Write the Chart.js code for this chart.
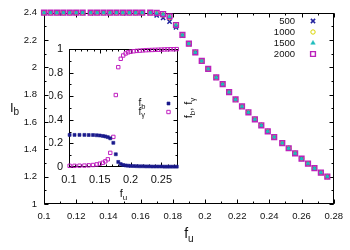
<!DOCTYPE html>
<html>
<head>
<meta charset="utf-8">
<script src="https://cdn.jsdelivr.net/npm/chart.js@4/dist/chart.umd.min.js"></script>
<style>
  html, body { margin: 0; padding: 0; background: #fff; }
  #wrap { position: relative; width: 350px; height: 250px; }
  #wrap canvas { position: absolute; left: 0; top: 0; }
</style>
</head>
<body>
<div id="wrap">
  <canvas id="main" width="350" height="250"></canvas>
  <canvas id="inset" width="350" height="250"></canvas>
</div>
<script>
// main panel: I_b against f_u for four system sizes
const fu = [0.100, 0.104, 0.108, 0.112, 0.116, 0.120, 0.124, 0.129, 0.133, 0.137, 0.141,
            0.145, 0.149, 0.153, 0.157, 0.161, 0.166, 0.170, 0.174, 0.178, 0.182, 0.186,
            0.190, 0.194, 0.198, 0.202, 0.207, 0.211, 0.215, 0.219, 0.223, 0.227, 0.231,
            0.235, 0.239, 0.243, 0.248, 0.252, 0.256, 0.260, 0.264, 0.268, 0.272, 0.276];
const ib500  = [2.4, 2.4, 2.4, 2.4, 2.4, 2.4, 2.4, 2.4, 2.4, 2.4, 2.4, 2.4, 2.4, 2.4, 2.4, 2.4,
                2.398, 2.38, 2.362, 2.335, 2.292, 2.232, 2.172, 2.108, 2.046, 1.988, 1.925, 1.876,
                1.818, 1.764, 1.713, 1.670, 1.619, 1.575, 1.531, 1.489, 1.445, 1.407, 1.370, 1.331,
                1.295, 1.261, 1.229, 1.200];
const ib1000 = [2.4, 2.4, 2.4, 2.4, 2.4, 2.4, 2.4, 2.4, 2.4, 2.4, 2.4, 2.4, 2.4, 2.4, 2.4, 2.4,
                2.4, 2.394, 2.384, 2.364, 2.306, 2.236, 2.173, 2.110, 2.047, 1.989, 1.926, 1.877,
                1.819, 1.765, 1.714, 1.671, 1.620, 1.576, 1.532, 1.490, 1.446, 1.408, 1.371, 1.332,
                1.296, 1.262, 1.230, 1.201];
const ib1500 = [2.4, 2.4, 2.4, 2.4, 2.4, 2.4, 2.4, 2.4, 2.4, 2.4, 2.4, 2.4, 2.4, 2.4, 2.4, 2.4,
                2.4, 2.397, 2.388, 2.37, 2.309, 2.237, 2.174, 2.110, 2.047, 1.989, 1.926, 1.877,
                1.819, 1.765, 1.714, 1.671, 1.620, 1.576, 1.532, 1.490, 1.446, 1.408, 1.371, 1.332,
                1.296, 1.262, 1.230, 1.201];
const ib2000 = [2.4, 2.4, 2.4, 2.4, 2.4, 2.4, 2.4, 2.4, 2.4, 2.4, 2.4, 2.4, 2.4, 2.4, 2.4, 2.4,
                2.4, 2.398, 2.39, 2.373, 2.31, 2.237, 2.174, 2.110, 2.047, 1.989, 1.926, 1.877,
                1.819, 1.765, 1.714, 1.671, 1.620, 1.576, 1.532, 1.490, 1.446, 1.408, 1.371, 1.332,
                1.296, 1.262, 1.230, 1.201];
const sizeLabels = ['500', '1000', '1500', '2000'];
const xTicks = [0.1, 0.12, 0.14, 0.16, 0.18, 0.2, 0.22, 0.24, 0.26, 0.28];
const yTicks = [1, 1.2, 1.4, 1.6, 1.8, 2, 2.2, 2.4];

// inset: f_b and f_gamma against f_u
const fuIn = [0.101, 0.109, 0.117, 0.125, 0.132, 0.139, 0.145, 0.150, 0.155, 0.159, 0.163,
              0.167, 0.172, 0.176, 0.180, 0.184, 0.188, 0.192, 0.196, 0.200, 0.205, 0.210,
              0.215, 0.220, 0.225, 0.230, 0.235, 0.240, 0.245, 0.250, 0.255, 0.260, 0.265,
              0.270, 0.275];
const fb = [0.272, 0.272, 0.272, 0.272, 0.271, 0.271, 0.269, 0.267, 0.263, 0.259, 0.253,
            0.243, 0.205, 0.108, 0.043, 0.025, 0.017, 0.013, 0.011, 0.009, 0.008, 0.007,
            0.006, 0.006, 0.005, 0.005, 0.004, 0.004, 0.004, 0.004, 0.003, 0.003, 0.003,
            0.003, 0.003];
const fgamma = [0.010, 0.010, 0.011, 0.012, 0.014, 0.017, 0.022, 0.028, 0.036, 0.048, 0.065,
                0.120, 0.255, 0.610, 0.846, 0.917, 0.945, 0.962, 0.972, 0.977, 0.981, 0.984,
                0.986, 0.988, 0.990, 0.991, 0.992, 0.993, 0.994, 0.995, 0.996, 0.997, 0.998,
                0.998, 0.999];
const xTicksIn = [0.1, 0.15, 0.2, 0.25];
const yTicksIn = [0, 0.2, 0.4, 0.6, 0.8, 1];

const FONT = "'Liberation Sans', Arial, sans-serif";
const BLUE = '#22229e';
const YELLOW = '#d8d400';
const CYAN = '#1fbcbc';
const MAGENTA = '#bb22bb';

function pts(xs, ys) {
    return xs.map((x, i) => ({ x, y: ys[i] }));
}

// gnuplot-like box with inward major/minor ticks on all four sides
const framePlugin = {
    id: 'frame',
    beforeDatasetsDraw(chart, args, opts) {
        const { ctx, chartArea: a, scales: { x, y } } = chart;
        const L = Math.round(a.left) + 0.5, R = Math.round(a.right) - 0.5;
        const T = Math.round(a.top) + 0.5, B = Math.round(a.bottom) - 0.5;
        ctx.save();
        ctx.strokeStyle = '#000';
        ctx.lineWidth = 1;
        ctx.beginPath();
        const xm = [], ym = [];
        for (let v = x.min; v <= x.max + 1e-9; v += opts.xMinor) xm.push(v);
        for (let v = y.min; v <= y.max + 1e-9; v += opts.yMinor) ym.push(v);
        xm.forEach(v => {
            const p = Math.round(x.getPixelForValue(v)) + 0.5;
            ctx.moveTo(p, B); ctx.lineTo(p, B - opts.minor);
            ctx.moveTo(p, T); ctx.lineTo(p, T + opts.minor);
        });
        ym.forEach(v => {
            const p = Math.round(y.getPixelForValue(v)) + 0.5;
            ctx.moveTo(L, p); ctx.lineTo(L + opts.minor, p);
            ctx.moveTo(R, p); ctx.lineTo(R - opts.minor, p);
        });
        x.ticks.forEach(t => {
            const p = Math.round(x.getPixelForValue(t.value)) + 0.5;
            ctx.moveTo(p, B); ctx.lineTo(p, B - opts.major);
            ctx.moveTo(p, T); ctx.lineTo(p, T + opts.major);
        });
        y.ticks.forEach(t => {
            const p = Math.round(y.getPixelForValue(t.value)) + 0.5;
            ctx.moveTo(L, p); ctx.lineTo(L + opts.major, p);
            ctx.moveTo(R, p); ctx.lineTo(R - opts.major, p);
        });
        ctx.stroke();
        ctx.strokeRect(L, T, R - L, B - T);
        ctx.restore();
    }
};

// text with a subscript, e.g. f_u
function subText(ctx, parts, x, y, size, subSize) {
    let cx = x;
    parts.forEach(([txt, sub]) => {
        ctx.font = (sub ? subSize : size) + 'px ' + FONT;
        ctx.fillText(txt, cx, sub ? y + size * 0.25 : y);
        cx += ctx.measureText(txt).width;
    });
    return cx - x;
}
function measureSub(ctx, parts, size, subSize) {
    let w = 0;
    parts.forEach(([txt, sub]) => {
        ctx.font = (sub ? subSize : size) + 'px ' + FONT;
        w += ctx.measureText(txt).width;
    });
    return w;
}

const mainDecor = {
    id: 'mainDecor',
    afterDraw(chart) {
        const { ctx, chartArea: a } = chart;
        ctx.save();
        ctx.fillStyle = '#111';
        ctx.textBaseline = 'alphabetic';
        // axis titles
        const fuParts = [['f', false], ['u', true]];
        const w = measureSub(ctx, fuParts, 14, 10);
        subText(ctx, fuParts, (a.left + a.right) / 2 - w / 2, 238, 14, 10);
        subText(ctx, [['I', false], ['b', true]], 10, 112, 13, 10);
        // legend
        const styles = chart.data.datasets;
        const order = [3, 2, 1, 0];
        order.forEach((di, row) => {
            const ds = styles[di];
            const yy = 21 + row * 11;
            ctx.font = '9.5px ' + FONT;
            ctx.textAlign = 'right';
            ctx.textBaseline = 'middle';
            ctx.fillStyle = '#111';
            ctx.fillText(ds.label, 295, yy + 0.5);
            ctx.fillStyle = ds.backgroundColor;
            ctx.strokeStyle = ds.borderColor;
            ctx.lineWidth = ds.pointBorderWidth;
            Chart.helpers.drawPoint(ctx, {
                pointStyle: ds.pointStyle, radius: ds.pointRadius,
                rotation: 0, borderWidth: ds.pointBorderWidth
            }, 313, yy);
        });
        ctx.restore();
    }
};

const insetDecor = {
    id: 'insetDecor',
    afterDraw(chart) {
        const { ctx, chartArea: a } = chart;
        ctx.save();
        ctx.fillStyle = '#111';
        ctx.textBaseline = 'alphabetic';
        const fuParts = [['f', false], ['u', true]];
        const w = measureSub(ctx, fuParts, 11, 8);
        subText(ctx, fuParts, (a.left + a.right) / 2 - w / 2, 197, 11, 8);
        // rotated y title on the right of the inset
        const yParts = [['f', false], ['b', true], [', f', false], ['\u03b3', true]];
        const wy = measureSub(ctx, yParts, 11, 8);
        ctx.translate(192, (a.top + a.bottom) / 2);
        ctx.rotate(-Math.PI / 2);
        subText(ctx, yParts, -wy / 2, 0, 11, 8);
        ctx.setTransform(1, 0, 0, 1, 0, 0);
        // legend
        const rows = [[['f', false], ['b', true]], [['f', false], ['\u03b3', true]]];
        chart.data.datasets.forEach((ds, row) => {
            const yy = 103.5 + row * 8.5;
            ctx.fillStyle = '#111';
            subText(ctx, rows[row], 138.5, yy + 2.5, 10, 7.5);
            ctx.fillStyle = ds.backgroundColor;
            ctx.strokeStyle = ds.borderColor;
            ctx.lineWidth = ds.pointBorderWidth;
            Chart.helpers.drawPoint(ctx, {
                pointStyle: ds.pointStyle, radius: ds.pointRadius,
                rotation: 0, borderWidth: ds.pointBorderWidth
            }, 168.5, yy);
        });
        ctx.restore();
    }
};

function axis(min, max, ticks, fontSize, pad, fit) {
    return {
        type: 'linear', min, max,
        grid: { display: false, drawTicks: false },
        border: { display: false },
        afterBuildTicks: s => { s.ticks = ticks.map(v => ({ value: v })); },
        afterFit: fit,
        ticks: {
            font: { family: FONT, size: fontSize }, color: '#111',
            padding: pad, maxRotation: 0, autoSkip: false,
            callback: v => String(+v.toFixed(3))
        }
    };
}

// dataset 0 is drawn on top, so the largest size goes first
new Chart(document.getElementById('main'), {
    type: 'scatter',
    data: {
        datasets: [
            { label: sizeLabels[3], data: pts(fu, ib2000), pointStyle: 'rect', pointRadius: 3.4,
              pointBorderWidth: 1.4, borderColor: MAGENTA, backgroundColor: 'rgba(0,0,0,0)', clip: false },
            { label: sizeLabels[2], data: pts(fu, ib1500), pointStyle: 'triangle', pointRadius: 2.6,
              pointBorderWidth: 0.5, borderColor: CYAN, backgroundColor: CYAN, clip: false },
            { label: sizeLabels[1], data: pts(fu, ib1000), pointStyle: 'circle', pointRadius: 2.2,
              pointBorderWidth: 1, borderColor: YELLOW, backgroundColor: 'rgba(0,0,0,0)', clip: false },
            { label: sizeLabels[0], data: pts(fu, ib500), pointStyle: 'crossRot', pointRadius: 3,
              pointBorderWidth: 1.5, borderColor: BLUE, backgroundColor: BLUE, clip: false }
        ]
    },
    options: {
        responsive: false, animation: false, devicePixelRatio: 1,
        layout: { padding: { left: 0, right: 14, top: 11, bottom: 0 } },
        plugins: { legend: { display: false }, tooltip: { enabled: false }, frame: { xMinor: 0.01, yMinor: 0.1, major: 4, minor: 2 } },
        scales: {
            x: axis(0.1, 0.28, xTicks, 9.5, 7, s => { s.height = 46; }),
            y: axis(1, 2.4, yTicks, 9.5, 7, s => { s.width = 44; })
        }
    },
    plugins: [framePlugin, mainDecor]
});

new Chart(document.getElementById('inset'), {
    type: 'scatter',
    data: {
        datasets: [
            { label: 'fb', data: pts(fuIn, fb), pointStyle: 'rect', pointRadius: 2.1,
              pointBorderWidth: 0.6, borderColor: '#1a1a8c', backgroundColor: '#1a1a8c', clip: false },
            { label: 'fgamma', data: pts(fuIn, fgamma), pointStyle: 'rect', pointRadius: 2.4,
              pointBorderWidth: 1, borderColor: '#c020c0', backgroundColor: 'rgba(0,0,0,0)', clip: false }
        ]
    },
    options: {
        responsive: false, animation: false, devicePixelRatio: 1,
        layout: { padding: { left: 49, right: 172, top: 49, bottom: 63 } },
        plugins: { legend: { display: false }, tooltip: { enabled: false }, frame: { xMinor: 0.01, yMinor: 0.1, major: 4, minor: 2 } },
        scales: {
            x: axis(0.1, 0.277, xTicksIn, 11, 6, s => { s.height = 20; }),
            y: axis(0, 1, yTicksIn, 11, 6, s => { s.width = 20; })
        }
    },
    plugins: [framePlugin, insetDecor]
});
</script>
</body>
</html>
